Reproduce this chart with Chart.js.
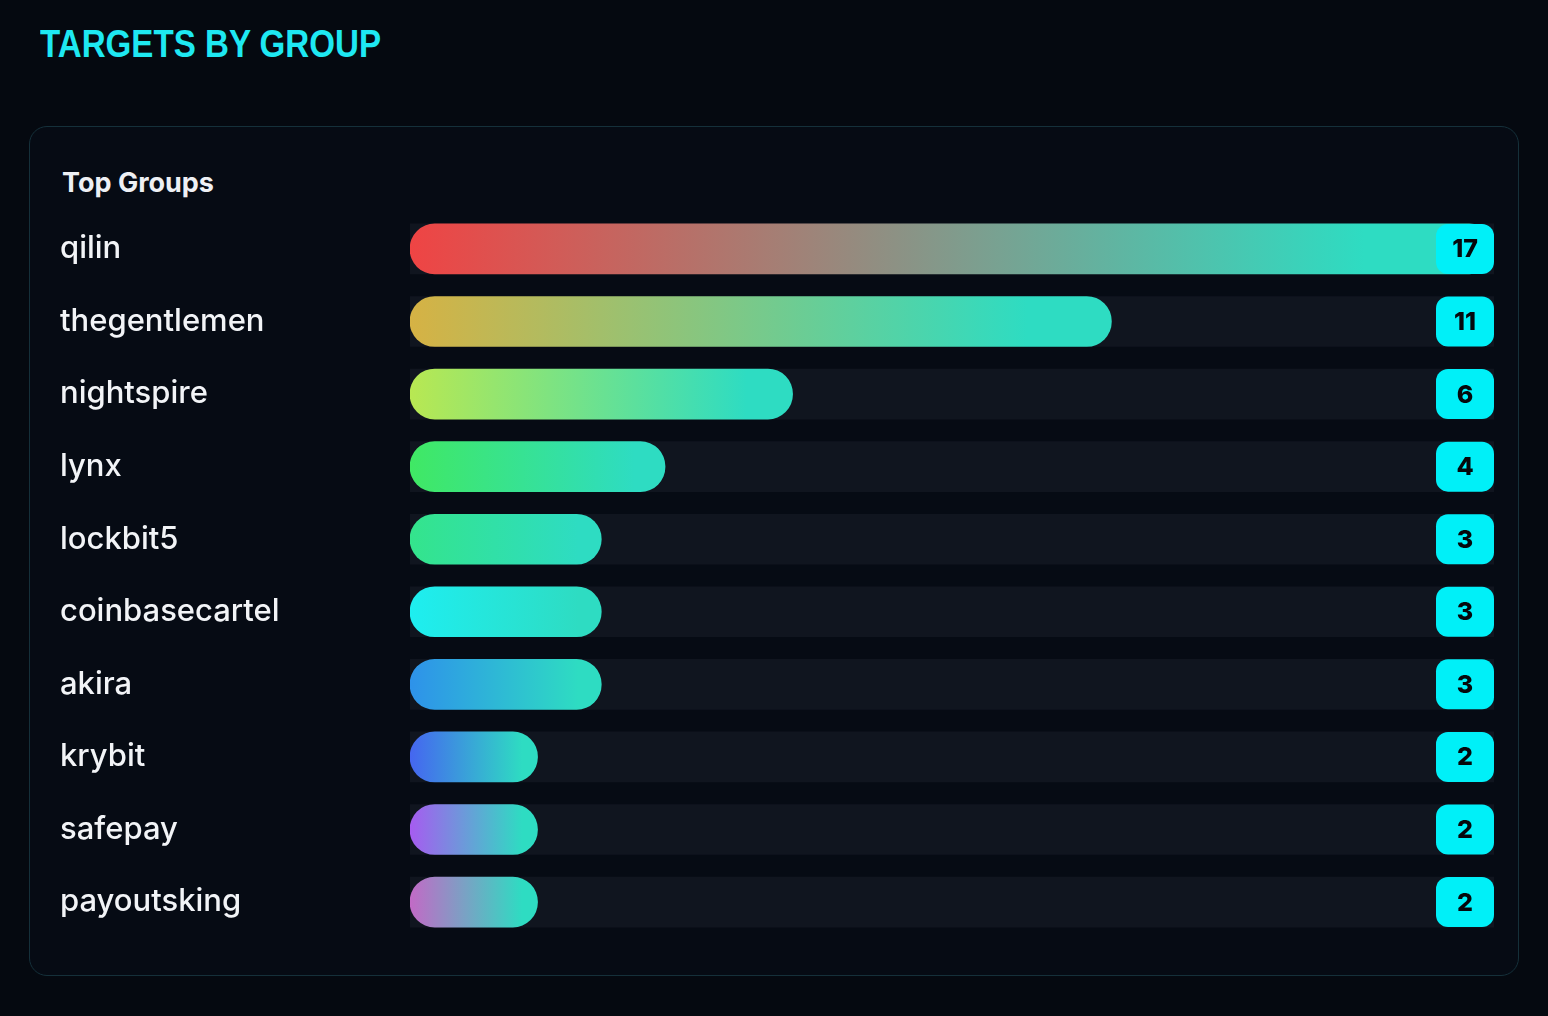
<!DOCTYPE html>
<html>
<head>
<meta charset="utf-8">
<script src="https://cdn.jsdelivr.net/npm/chart.js@4.4.1/dist/chart.umd.min.js"></script>
<style>
  html, body { margin: 0; padding: 0; }
  body { width: 1548px; height: 1016px; background: #050910; position: relative; overflow: hidden; font-family: Inter, "Noto Sans", sans-serif; }
  #title { position: absolute; left: 40px; top: 21px; margin: 0; font-family: "Liberation Sans", Arial, sans-serif; font-weight: 700; font-size: 36px; letter-spacing: 0px; color: #1ee8f2; transform-origin: left top; transform: scale(0.92, 1.1); white-space: nowrap; }
  #panel { position: absolute; left: 29px; top: 126px; width: 1488px; height: 848px; border: 1px solid #15303a; border-radius: 18px; background: #060b14; }
  #sub { position: absolute; left: 62px; top: 166px; margin: 0; font-family: Inter, sans-serif; font-weight: 700; font-size: 27px; color: #eef0f4; }
  #wrap { position: absolute; left: 0; top: 194px; width: 1548px; height: 763px; }
</style>
</head>
<body>
<h1 id="title">TARGETS BY GROUP</h1>
<div id="panel"></div>
<h2 id="sub">Top Groups</h2>
<div id="wrap"><canvas id="c"></canvas></div>
<script>
const groups = ["qilin", "thegentlemen", "nightspire", "lynx", "lockbit5", "coinbasecartel", "akira", "krybit", "safepay", "payoutsking"];
const counts = [17, 11, 6, 4, 3, 3, 3, 2, 2, 2];
const startColors = ["#ef4444", "#d6b244", "#b8e852", "#40e864", "#34e48c", "#1eeef0", "#2e92ea", "#4566f0", "#a65cf0", "#c26ac6"];
const endColor = "#2edcc2";

const maxCount = Math.max(...counts);
const track = counts.map(() => maxCount);

const badgePlugin = {
  id: 'badges',
  afterDatasetsDraw(chart) {
    const ctx = chart.ctx;
    const meta = chart.getDatasetMeta(0);
    const right = chart.chartArea.right;
    const w = 58, h = 50;
    ctx.save();
    meta.data.forEach((bar, i) => {
      const x = right - w, y = bar.y - h / 2;
      ctx.fillStyle = "#00f0f8";
      ctx.beginPath();
      ctx.roundRect(x, y, w, h, 12);
      ctx.fill();
      ctx.fillStyle = "#05080c";
      ctx.font = "800 25px Inter, sans-serif";
      ctx.textAlign = "center";
      ctx.textBaseline = "middle";
      ctx.fillText(String(counts[i]), x + w / 2, bar.y + 1);
    });
    ctx.restore();
  }
};

new Chart(document.getElementById('c'), {
  type: 'bar',
  data: {
    labels: groups,
    datasets: [
      {
        data: counts,
        order: 0,
        grouped: false,
        barThickness: 50,
        borderRadius: 25,
        borderSkipped: false,
        backgroundColor(ctx) {
          const i = ctx.dataIndex;
          const fallback = startColors[i] || startColors[0];
          const chart = ctx.chart;
          const xs = chart.scales && chart.scales.x;
          if (!xs || i === undefined || !chart.chartArea) return fallback;
          const x0 = xs.getPixelForValue(0);
          const x1 = xs.getPixelForValue(counts[i]);
          if (!isFinite(x0) || !isFinite(x1) || x1 <= x0) return fallback;
          const g = chart.ctx.createLinearGradient(x0, 0, x1, 0);
          g.addColorStop(0, startColors[i]);
          g.addColorStop(0.88, endColor);
          g.addColorStop(1, endColor);
          return g;
        }
      },
      {
        data: track,
        order: 1,
        grouped: false,
        barThickness: 50,
        borderRadius: 0,
        backgroundColor: "#10151f"
      }
    ]
  },
  options: {
    indexAxis: 'y',
    responsive: true,
    maintainAspectRatio: false,
    animation: false,
    events: [],
    layout: { padding: { left: 60, right: 54, top: 0, bottom: 0 } },
    plugins: { legend: { display: false }, tooltip: { enabled: false } },
    scales: {
      x: { display: false, min: 0, max: maxCount },
      y: {
        grid: { display: false, drawTicks: false },
        border: { display: false },
        ticks: {
          crossAlign: 'far',
          color: "#f2f4f7",
          padding: 0,
          font: { family: "Inter, sans-serif", size: 31, weight: '500' }
        },
        afterFit(scale) { scale.width = 350; }
      }
    }
  },
  plugins: [badgePlugin]
});
</script>
</body>
</html>
